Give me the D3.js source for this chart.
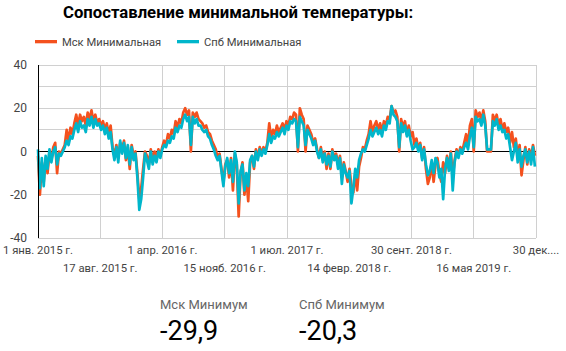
<!DOCTYPE html>
<html><head><meta charset="utf-8">
<script src="https://cdn.jsdelivr.net/npm/d3@7"></script>
<style>body{margin:0;background:#fff;} text{font-family:Roboto,sans-serif;}</style>
</head><body><svg id="c" width="566" height="351"></svg>
<script>
// ---- data (weekly samples starting 1 Jan 2015) ----
const startDate = "2015-01-01";
const endDate = "2019-12-30";
const stepDays = 7;
const mskMin = [
-2,-20,-5,-14,-3,-10,0,-4,2,4,-10,0,-1,1,3,10,5,11,8,13,17,12,17,14,16,12,18,15,19,14,17,13,15,12,14,10,13,8,12,2,-2,3,-3,4,1,5,-4,2,-8,3,-2,0,-10,
-22,-17,-8,0,-2,-6,1,-4,0,-3,1,-2,2,5,3,8,6,10,8,14,11,15,13,18,20,17,19,0,18,16,18,15,14,13,11,12,9,8,5,3,1,-3,-1,-8,-14,-6,-4,-12,-3,-18,-1,-6,
-30,-10,-5,-20,-12,-23,-5,-2,-8,1,-3,2,-1,2,0,4,13,6,10,8,12,9,11,13,10,14,12,16,15,18,17,0,20,17,15,0,12,10,8,4,6,1,-3,2,-4,0,-8,-1,-8,1,-3,-1,
-6,-2,-12,-5,-9,-14,-8,-16,-19,-10,-18,-7,-3,2,1,5,8,14,9,12,14,10,13,9,14,12,16,15,21,18,19,16,0,15,11,14,8,12,7,9,3,6,1,4,-3,2,-8,-15,-12,-5,-14,-6,
-3,-10,-14,-5,-10,-2,-8,0,-12,-4,1,-2,2,0,4,8,3,12,15,0,19,16,18,14,19,14,0,0,0,17,14,17,12,15,10,13,9,11,4,9,2,6,-3,3,-11,-4,2,-6,1,-3,3,-2
];
const spbMin = [
1,-17,-3,-16,-2,-8,1,-5,0,2,-6,-1,-2,0,2,5,3,7,6,10,13,9,14,11,12,9,15,12,16,11,15,12,13,10,12,8,11,6,9,1,-4,2,-5,5,-1,4,-3,3,-6,2,-4,-1,-12,
-27,-22,-12,-1,-4,-8,0,-6,-2,-5,0,-3,1,3,2,5,4,7,6,11,9,12,11,15,17,14,16,3,16,13,15,12,12,10,9,10,7,6,3,1,-2,-4,-2,-9,-16,-7,-3,-10,-4,-14,0,-5,
-24,-9,-6,-18,-10,-16,-4,-2,-7,0,-4,1,-2,1,-1,3,8,4,7,6,9,7,9,11,8,12,10,14,13,15,14,2,16,14,12,3,10,8,6,3,5,0,-3,1,-5,-1,-6,-2,-7,0,-4,-2,
-8,-3,-15,-6,-10,-12,-9,-24,-17,-8,-12,-4,-1,1,0,3,6,10,7,9,11,8,10,7,12,10,14,13,21,17,16,14,2,13,9,12,7,10,5,1,2,4,0,3,-4,1,-6,-11,-9,-4,-10,-3,
-5,-12,-8,-22,-8,-3,-9,-1,-18,-5,0,-3,1,-1,2,4,1,7,11,2,16,14,15,12,17,12,1,1,1,14,12,15,10,12,9,10,6,8,2,-4,0,4,-5,1,-7,-2,1,-5,0,-6,2,-7
];
const seriesNames = ["Мск Минимальная", "Спб Минимальная"];
const seriesColors = ["#f4511e", "#00b6cb"];
const tickDates = ["2015-01-01","2015-08-17","2016-04-01","2016-11-15","2017-07-01","2018-02-14","2018-09-30","2019-05-16","2019-12-30"];
const tickLabels = ["1 янв. 2015 г.","17 авг. 2015 г.","1 апр. 2016 г.","15 нояб. 2016 г.","1 июл. 2017 г.","14 февр. 2018 г.","30 сент. 2018 г.","16 мая 2019 г.","30 дек...."];
const yTickValues = [-40, -20, 0, 20, 40];
const yGridValues = [-40, -30, -20, -10, 0, 10, 20, 30, 40];
const titleText = "Сопоставление минимальной температуры:";
const scoreLabels = ["Мск Минимум", "Спб Минимум"];
const scoreValues = ["-29,9", "-20,3"];

// ---- drawing ----
const svg = d3.select("#c");
const parse = d3.utcParse("%Y-%m-%d");
const t0 = parse(startDate);
const x = d3.scaleUtc().domain([t0, parse(endDate)]).range([38, 536]);
const y = d3.scaleLinear().domain([-40, 40]).range([238, 65]);

svg.append("text").attr("x", 63).attr("y", 18).attr("font-size", 16.7).attr("font-weight", "bold")
  .attr("fill", "#000").text(titleText);

// legend
const legX = [35, 177];
seriesNames.forEach((n, i) => {
  svg.append("rect").attr("x", legX[i]).attr("y", 40).attr("width", 22).attr("height", 3.3).attr("fill", seriesColors[i]);
  svg.append("text").attr("x", legX[i] + 27).attr("y", 46).attr("font-size", 11.2).attr("fill", "#444").text(n);
});

// grid
const g = svg.append("g");
g.selectAll("line.h").data(yGridValues).join("line")
  .attr("x1", 38).attr("x2", 536).attr("y1", d => y(d)).attr("y2", d => y(d))
  .attr("stroke", "#d0d0d0").attr("stroke-width", 1).attr("shape-rendering", "crispEdges");
g.selectAll("line.v").data(tickDates.slice(1)).join("line")
  .attr("x1", d => x(parse(d))).attr("x2", d => x(parse(d))).attr("y1", y(40)).attr("y2", y(-40))
  .attr("stroke", "#d0d0d0").attr("stroke-width", 1).attr("shape-rendering", "crispEdges");

// y labels
svg.append("g").selectAll("text").data(yTickValues).join("text")
  .attr("x", 27).attr("y", d => y(d) + 4).attr("text-anchor", "end").attr("font-size", 12).attr("fill", "#444")
  .text(d => d);

// x labels
svg.append("g").selectAll("text").data(tickDates).join("text")
  .attr("x", d => x(parse(d))).attr("y", (d, i) => i % 2 === 0 ? 254 : 272)
  .attr("text-anchor", "middle").attr("font-size", 11.3).attr("fill", "#444")
  .text((d, i) => tickLabels[i]);

// zero line
svg.append("line").attr("x1", 38).attr("x2", 536).attr("y1", y(0)).attr("y2", y(0))
  .attr("stroke", "#000").attr("stroke-width", 1).attr("shape-rendering", "crispEdges");

// series
const line = d3.line().x((d, i) => x(d3.utcDay.offset(t0, i * stepDays))).y(d => y(d));
[mskMin, spbMin].forEach((s, i) => {
  svg.append("path").datum(s).attr("d", line).attr("fill", "none")
    .attr("stroke", seriesColors[i]).attr("stroke-width", 2.7).attr("stroke-linejoin", "round");
});

// left axis line
svg.append("line").attr("x1", 38).attr("x2", 38).attr("y1", y(40)).attr("y2", y(-40))
  .attr("stroke", "#000").attr("stroke-width", 1).attr("shape-rendering", "crispEdges");

// scorecards
const scX = [160, 299];
scoreLabels.forEach((l, i) => {
  svg.append("text").attr("x", scX[i]).attr("y", 309).attr("font-size", 13).attr("fill", "#666").text(l);
  svg.append("text").attr("x", scX[i]).attr("y", 340).attr("font-size", 27).attr("fill", "#000").text(scoreValues[i]);
});
</script></body></html>
